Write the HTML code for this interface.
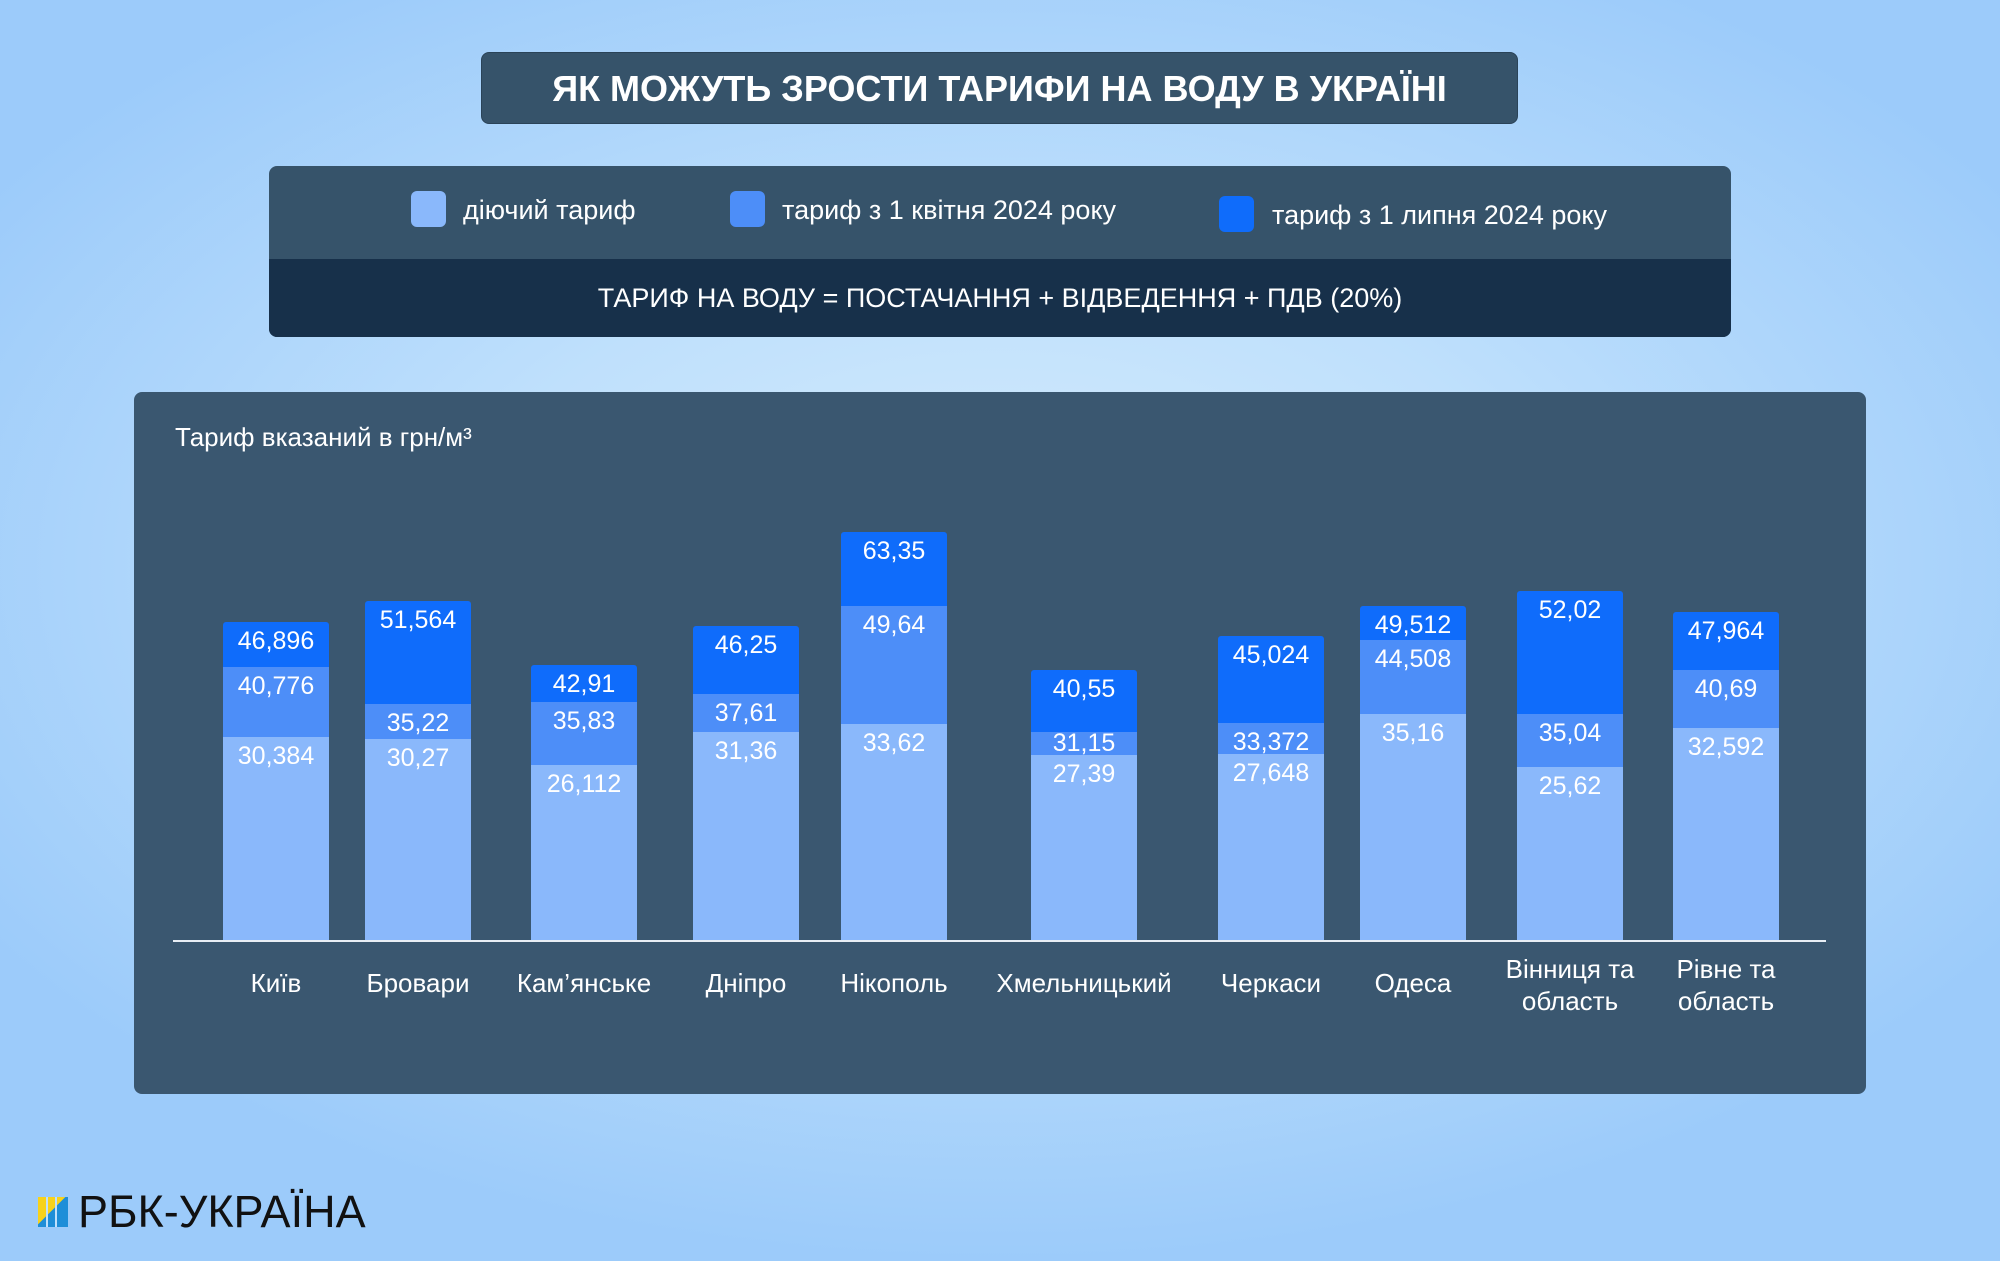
<!DOCTYPE html>
<html><head><meta charset="utf-8"><style>
*{margin:0;padding:0;box-sizing:border-box}
body{width:2000px;height:1261px;position:relative;overflow:hidden;font-family:"Liberation Sans",sans-serif;
background:radial-gradient(ellipse 60% 55% at 50% 45%,#d4ebfd 0%,#bfe0fc 45%,#9ccbfa 100%);}
.a{position:absolute}
.title{left:481px;top:52px;width:1037px;height:72px;background:#36536a;border-radius:8px;border:1px solid #2a4358;color:#fff;font-weight:bold;font-size:36px;text-align:center;line-height:72px}
.leg{left:269px;top:166px;width:1462px;height:171px;background:#36536a;border-radius:8px;overflow:hidden}
.strip{left:0;top:93px;width:100%;height:78px;background:#17304a;color:#fff;font-size:27px;text-align:center;line-height:78px}
.sq{width:35px;height:36px;border-radius:6px}
.lt{color:#fff;font-size:27px;line-height:36px}
.panel{left:134px;top:392px;width:1732px;height:702px;background:#3a5770;border-radius:8px}
.seg{position:absolute;width:106px}
.v{position:absolute;width:106px;text-align:center;color:#fff;font-size:25px}
.c{position:absolute;width:200px;text-align:center;color:#fff;font-size:26px;line-height:32px}
</style></head><body>
<div class="a title">ЯК МОЖУТЬ ЗРОСТИ ТАРИФИ НА ВОДУ В УКРАЇНІ</div>
<div class="a leg">
 <div class="a sq" style="left:142px;top:25px;background:#8ab8fb"></div>
 <div class="a lt" style="left:194px;top:26px">діючий тариф</div>
 <div class="a sq" style="left:461px;top:25px;background:#4d8ef8"></div>
 <div class="a lt" style="left:513px;top:26px">тариф з 1 квітня 2024 року</div>
 <div class="a sq" style="left:950px;top:30px;background:#0f6cfb"></div>
 <div class="a lt" style="left:1003px;top:31px">тариф з 1 липня 2024 року</div>
 <div class="a strip">ТАРИФ НА ВОДУ = ПОСТАЧАННЯ + ВІДВЕДЕННЯ + ПДВ (20%)</div>
</div>
<div class="a panel"></div>
<div class="a" style="left:175px;top:422px;color:#fff;font-size:26px">Тариф вказаний в грн/м³</div>
<div class="a" style="left:173px;top:940px;width:1653px;height:2px;background:#e8eef5"></div>
<div id="bars"></div>
<div class="a" style="left:38px;top:1197px;width:30px;height:30px;background:linear-gradient(135deg,#f7d21b 45%,#1e8ed8 46%)"></div>
<div class="a" style="left:46px;top:1197px;width:2px;height:30px;background:#bfe0fc"></div>
<div class="a" style="left:55px;top:1197px;width:2px;height:30px;background:#bfe0fc"></div>
<div class="a" style="left:78px;top:1186px;font-size:45px;color:#111">РБК-УКРАЇНА</div>
<script>
var d=[["Київ",223,622,667,737,"46,896","40,776","30,384"],
["Бровари",365,601,704,739,"51,564","35,22","30,27"],
["Кам’янське",531,665,702,765,"42,91","35,83","26,112"],
["Дніпро",693,626,694,732,"46,25","37,61","31,36"],
["Нікополь",841,532,606,724,"63,35","49,64","33,62"],
["Хмельницький",1031,670,732,755,"40,55","31,15","27,39"],
["Черкаси",1218,636,723,754,"45,024","33,372","27,648"],
["Одеса",1360,606,640,714,"49,512","44,508","35,16"],
["Вінниця та<br>область",1517,591,714,767,"52,02","35,04","25,62"],
["Рівне та<br>область",1673,612,670,728,"47,964","40,69","32,592"]];
var h="";
d.forEach(function(b){var x=b[1];
h+='<div class="seg" style="left:'+x+'px;top:'+b[2]+'px;height:'+(940-b[2])+'px;background:#0f6cfb;border-radius:3px 3px 0 0"></div>';
h+='<div class="seg" style="left:'+x+'px;top:'+b[3]+'px;height:'+(940-b[3])+'px;background:#4d8ef8"></div>';
h+='<div class="seg" style="left:'+x+'px;top:'+b[4]+'px;height:'+(940-b[4])+'px;background:#8ab8fb"></div>';
var small=(b[4]-b[3])<30;
h+='<div class="v" style="left:'+x+'px;top:'+(b[2]+5)+'px">'+b[5]+'</div>';
h+='<div class="v" style="left:'+x+'px;top:'+(small?b[3]-3:b[3]+5)+'px">'+b[6]+'</div>';
h+='<div class="v" style="left:'+x+'px;top:'+(b[4]+5)+'px">'+b[7]+'</div>';
var two=b[0].indexOf("<br>")>0;
h+='<div class="c" style="left:'+(x-47)+'px;top:'+(two?953:967)+'px">'+b[0]+'</div>';
});
document.getElementById("bars").innerHTML=h;
</script>
</body></html>
